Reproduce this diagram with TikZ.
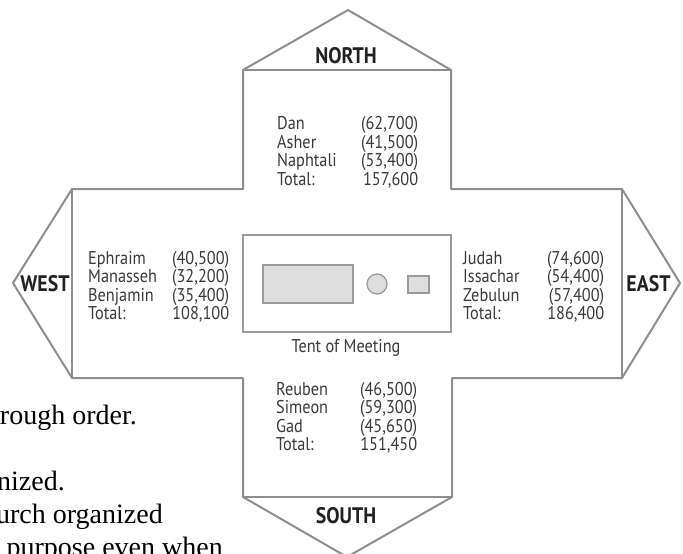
\documentclass[tikz,border=0pt]{standalone}
\usepackage{graphicx}
\usepackage{fontspec}
\setmainfont{Liberation Serif}
\newfontfamily\dg[FakeStretch=0.88]{PT Sans}
\newfontfamily\tms{Liberation Serif}
\newcommand\fragtext[1]{\scalebox{2.8}{\tms\fontsize{10pt}{12pt}\selectfont #1}}
\definecolor{linegray}{HTML}{8E8E8E}
\definecolor{txtgray}{HTML}{3A3A3A}
\definecolor{headgray}{HTML}{222222}
\definecolor{furnfill}{HTML}{DEDEDE}
\definecolor{furnborder}{HTML}{9A9A9A}
\tikzset{
  outline/.style={draw=linegray, line width=2pt, line join=round},
  tentbox/.style={draw=furnborder, line width=1.3pt},
  furn/.style={draw=furnborder, fill=furnfill, line width=1.2pt},
  lst/.style={font=\dg\fontsize{18.5}{18.5}\selectfont, text=txtgray, inner sep=0pt},
  head/.style={font=\dg\bfseries\fontsize{22.5}{22.5}\selectfont, text=headgray, inner sep=0pt, anchor=base},
  frag/.style={text=black, inner sep=0pt, anchor=base east},
}
\newcommand\trow[5]{\node[lst, anchor=base west] (#1) at (#2,#3) {\hbox to 141pt{#4\hfil #5}};}
\begin{document}
\begin{tikzpicture}[x=1pt,y=-1pt]
\useasboundingbox (0,0) rectangle (683,554);
\fill[white] (0,0) rectangle (683,554);
\begin{scope}
\clip (0,0) rectangle (683,554);
% cross outline
\draw[outline] (243,70) -- (348,10) -- (451,70) -- (451,189) -- (622,189) -- (680,283)
  -- (622,378) -- (452,378) -- (452,497) -- (347,557) -- (243,497) -- (243,378)
  -- (72,378) -- (13,283) -- (72,189) -- (243,189) -- cycle;
\draw[outline] (243,70) -- (451,70);
\draw[outline] (72,189) -- (72,378);
\draw[outline] (622,189) -- (622,378);
\draw[outline] (243,497) -- (452,497);
% text fragments on the left
\node[frag] (f1) at (137,424) {\fragtext{rough order.}};
\node[frag] (f2) at (65,490) {\fragtext{nized.}};
\node[frag] (f3) at (163,523) {\fragtext{urch organized}};
\node[frag] (f4) at (223,556) {\fragtext{purpose even when}};
\end{scope}
% tent of meeting
\draw[tentbox] (243,235) rectangle (451,332);
\draw[furn] (263,265) rectangle (353,303);
\draw[furn] (377,284) circle [radius=10];
\draw[furn] (408,276) rectangle (429,293);
\node[lst, anchor=base] (tent) at (346,352.5) {Tent of Meeting};
% headings
\node[head] (north) at (346,63.5) {NORTH};
\node[head] (south) at (346,523) {SOUTH};
\node[head] (west) at (45,291.5) {WEST};
\node[head] (east) at (648.5,291) {EAST};
% north
\trow{n1}{277}{129.5}{Dan}{(62,700)}
\trow{n2}{277}{148}{Asher}{(41,500)}
\trow{n3}{277}{166.5}{Naphtali}{(53,400)}
\trow{n4}{277}{185}{Total:}{157,600}
% west
\trow{w1}{88}{264}{Ephraim}{(40,500)}
\trow{w2}{88}{282.5}{Manasseh}{(32,200)}
\trow{w3}{88}{301}{Benjamin}{(35,400)}
\trow{w4}{88}{319.5}{Total:}{108,100}
% east
\trow{e1}{463}{264}{Judah}{(74,600)}
\trow{e2}{463}{282.5}{Issachar}{(54,400)}
\trow{e3}{463}{301}{Zebulun}{(57,400)}
\trow{e4}{463}{319.5}{Total:}{186,400}
% south
\trow{s1}{276}{395}{Reuben}{(46,500)}
\trow{s2}{276}{413.5}{Simeon}{(59,300)}
\trow{s3}{276}{432}{Gad}{(45,650)}
\trow{s4}{276}{450.5}{Total:}{151,450}
\end{tikzpicture}
\end{document}
